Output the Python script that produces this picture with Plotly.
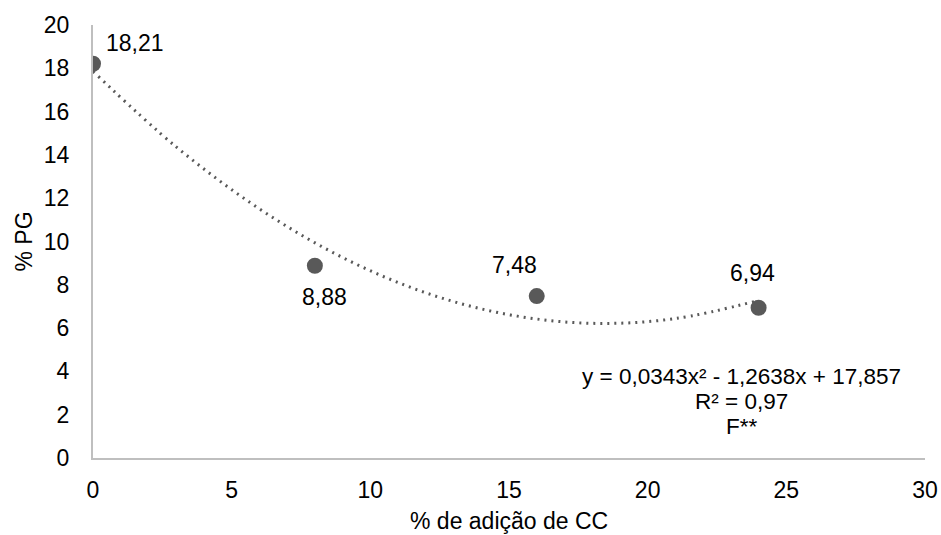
import plotly.graph_objects as go

# Data
cc_pct = [0, 8, 16, 24]
pg_pct = [18.21, 8.88, 7.48, 6.94]
pg_labels = ["18,21", "8,88", "7,48", "6,94"]
# label offsets (pixels) relative to each point
label_dx = [42, 10, -22, -6]
label_dy = [21, -31, 31, 35]

# Trendline points
trend_x = [0, 3, 6, 9, 12, 15, 18, 21, 24]
trend_y = [17.86, 14.37, 11.51, 9.26, 7.63, 6.62, 6.22, 6.44, 7.28]

x_ticks = [0, 5, 10, 15, 20, 25, 30]
y_ticks = [0, 2, 4, 6, 8, 10, 12, 14, 16, 18, 20]

eq_lines = ["y = 0,0343x² - 1,2638x + 17,857", "R² = 0,97", "F**"]
eq_y = [3.75, 2.6, 1.45]

FONT = "Liberation Sans, Arial, sans-serif"
GREY = "#595959"
FS = 23

fig = go.Figure()
fig.add_trace(go.Scatter(
    x=trend_x, y=trend_y, mode="lines", line_shape="spline",
    line=dict(color=GREY, width=3, dash="2px,5px"), hoverinfo="skip",
))
fig.add_trace(go.Scatter(
    x=cc_pct, y=pg_pct, mode="markers",
    marker=dict(color=GREY, size=16),
))

for xv, yv, t, dx, dy in zip(cc_pct, pg_pct, pg_labels, label_dx, label_dy):
    fig.add_annotation(
        x=xv, y=yv, text=t, showarrow=False, xshift=dx, yshift=dy,
        font=dict(family=FONT, size=FS, color="#000000"),
    )

for line, yv in zip(eq_lines, eq_y):
    fig.add_annotation(
        x=23.4, y=yv, xref="x", yref="y", text=line,
        showarrow=False, xanchor="center", yanchor="middle", borderpad=0,
        font=dict(family=FONT, size=22.5, color="#000000"),
    )

# axis titles
fig.add_annotation(
    x=0.5, y=0, xref="paper", yref="paper", yshift=-63,
    text="% de adição de CC", showarrow=False, yanchor="middle",
    font=dict(family=FONT, size=FS, color="#000000"),
)
fig.add_annotation(
    x=0, y=0.5, xref="paper", yref="paper", xshift=-70,
    text="% PG", showarrow=False, textangle=-90,
    xanchor="center", yanchor="middle",
    font=dict(family=FONT, size=FS, color="#000000"),
)

fig.update_layout(
    width=941, height=535,
    margin=dict(l=93, r=16, t=25, b=77),
    paper_bgcolor="white", plot_bgcolor="white",
    showlegend=False,
    font=dict(family=FONT, size=FS, color="#000000"),
)
fig.update_xaxes(
    range=[0, 30], tickvals=x_ticks, showgrid=False, zeroline=False,
    showline=True, linecolor="#bfbfbf", linewidth=2, ticks="",
    ticklabelstandoff=10, automargin=False,
    tickfont=dict(family=FONT, size=FS),
)
fig.update_yaxes(
    range=[0, 20], tickvals=y_ticks, showgrid=False, zeroline=False,
    showline=True, linecolor="#bfbfbf", linewidth=2, ticks="",
    ticklabelstandoff=17, automargin=False,
    tickfont=dict(family=FONT, size=FS),
)

fig.write_html(
    "out.html",
    config={"displayModeBar": False},
    post_script="document.body.style.margin='0';document.body.style.overflow='hidden';",
)
